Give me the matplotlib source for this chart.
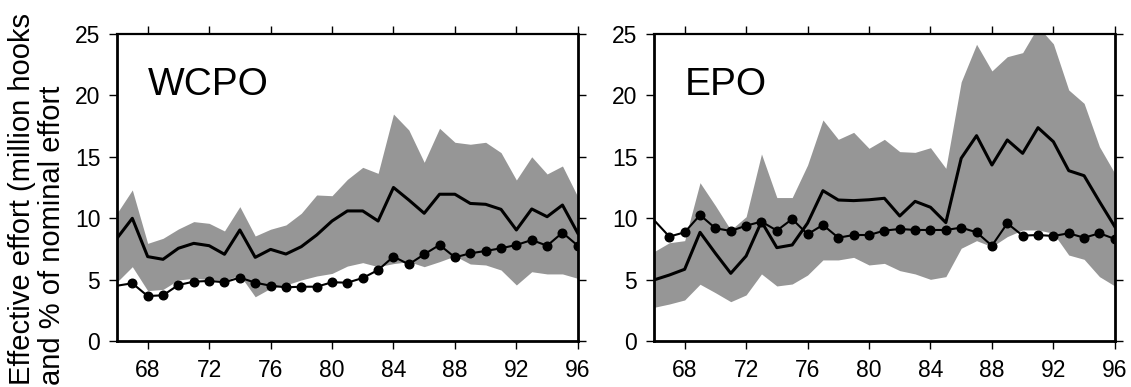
import matplotlib
matplotlib.use('Agg')
import matplotlib.pyplot as plt

plt.rcParams['font.family'] = ['Liberation Sans', 'DejaVu Sans']

years = list(range(66, 97))
xticks = [68, 72, 76, 80, 84, 88, 92, 96]
yticks = [0, 5, 10, 15, 20, 25]

# WCPO
wcpo_eff = [8.36, 9.99, 6.87, 6.65, 7.55, 7.95, 7.76, 7.06, 9.04, 6.81, 7.46, 7.08, 7.68, 8.63, 9.77, 10.59,
            10.59, 9.77, 12.5, 11.48, 10.4, 11.95, 11.95, 11.2, 11.13, 10.72, 9.04, 10.75, 10.12, 11.07, 8.77]
wcpo_upper = [10.4, 12.3, 7.95, 8.36, 9.12, 9.72, 9.58, 8.96, 10.94, 8.55, 9.1, 9.45, 10.4, 11.89, 11.83, 13.16,
              14.14, 13.65, 18.48, 17.18, 14.55, 17.32, 16.18, 16.02, 16.18, 15.34, 13.11, 15.0, 13.6, 14.25, 11.74]
wcpo_lower = [4.8, 6.05, 4.1, 4.2, 4.97, 5.1, 5.0, 4.9, 5.37, 3.6, 4.29, 4.56, 4.97, 5.29, 5.5, 6.1,
              6.38, 6.05, 6.3, 6.46, 6.05, 6.46, 6.92, 6.27, 6.19, 5.78, 4.56, 5.64, 5.46, 5.46, 5.1]
wcpo_pct = [4.5, 4.7, 3.66, 3.72, 4.56, 4.83, 4.89, 4.78, 5.16, 4.75, 4.5, 4.37, 4.42, 4.42, 4.78, 4.75,
            5.13, 5.78, 6.87, 6.24, 7.06, 7.82, 6.81, 7.14, 7.33, 7.55, 7.82, 8.22, 7.76, 8.82, 7.76]

# EPO
epo_eff = [4.97, 5.37, 5.84, 8.85, 7.14, 5.51, 6.92, 9.72, 7.6, 7.82, 9.6, 12.24, 11.48, 11.43, 11.5, 11.62,
           10.18, 11.37, 10.89, 9.64, 14.88, 16.72, 14.33, 16.37, 15.28, 17.37, 16.23, 13.87, 13.46, 11.35, 9.31]
epo_upper = [7.27, 8.0, 8.17, 12.89, 11.02, 9.04, 10.12, 15.23, 11.68, 11.68, 14.33, 18.0, 16.42, 16.99, 15.69, 16.42,
             15.42, 15.36, 15.74, 14.06, 21.1, 24.16, 21.99, 23.15, 23.48, 25.6, 24.2, 20.44, 19.35, 15.82, 13.65]
epo_lower = [2.74, 3.01, 3.34, 4.62, 3.93, 3.2, 3.75, 5.46, 4.48, 4.64, 5.37, 6.6, 6.6, 6.81, 6.19, 6.32,
             5.73, 5.46, 5.02, 5.24, 7.55, 8.17, 7.68, 8.5, 9.04, 9.04, 8.77, 7.0, 6.65, 5.24, 4.48]
epo_pct = [9.85, 8.5, 8.85, 10.26, 9.18, 8.96, 9.39, 9.72, 8.99, 9.93, 8.69, 9.45, 8.41, 8.63, 8.63, 8.99,
           9.12, 9.04, 9.04, 9.04, 9.23, 8.85, 7.76, 9.58, 8.58, 8.63, 8.55, 8.77, 8.41, 8.77, 8.31]

panels = [
    ('WCPO', wcpo_eff, wcpo_upper, wcpo_lower, wcpo_pct),
    ('EPO', epo_eff, epo_upper, epo_lower, epo_pct),
]

fig = plt.figure(figsize=(11.31, 3.87), dpi=100)
lefts = [0.1034, 0.5782]

for left, (name, eff, upper, lower, pct) in zip(lefts, panels):
    ax = fig.add_axes([left, 0.1189, 0.4075, 0.7933])
    ax.fill_between(years, lower, upper, color='#969696', lw=0)
    ax.plot(years, eff, color='black', lw=2.2)
    ax.plot(years, pct, color='black', lw=1.5, marker='o', ms=6.2, markevery=list(range(1, len(years))))
    ax.set_xlim(66, 96)
    ax.set_ylim(0, 25)
    ax.set_xticks(xticks)
    ax.set_yticks(yticks)
    ax.tick_params(direction='out', length=6, width=1, labelsize=16.5,
                   top=True, right=True)
    ax.tick_params(axis='x', pad=7)
    ax.tick_params(axis='y', pad=6)
    for side in ['left', 'bottom', 'right']:
        ax.spines[side].set_linewidth(2)
    ax.spines['top'].set_linewidth(1.6)
    ax.text(68, 20, name, fontsize=28, ha='left', va='baseline')

fig.text(0.0195, 0.005, 'Effective effort (million hooks', rotation=90,
         ha='center', va='bottom', fontsize=21)
fig.text(0.046, 0.005, 'and % of nominal effort', rotation=90,
         ha='center', va='bottom', fontsize=21)

fig.savefig('out.png', dpi=100)
